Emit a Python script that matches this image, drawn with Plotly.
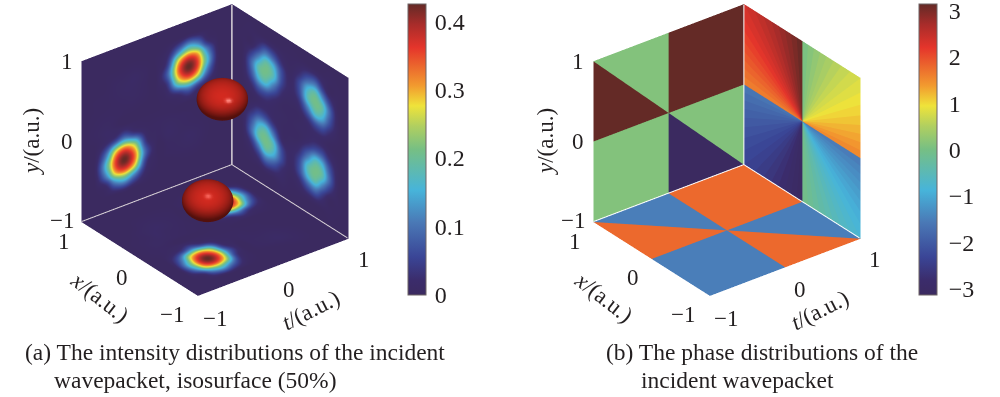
import numpy as np
import plotly.graph_objects as go

# ---------- data ----------
grid_nodes = [-1, -.8, -.65, -.55, -.43, -.3, -.15, 0, .15, .3, .43, .55, .65, .8, 1]

# intensity on the wall x = 1; rows: y = grid_nodes, columns: t = grid_nodes
intensity_wall_x = [
 [0,0,0,0,0,0,0,0,0,0,0,0,0,0,0],
 [0,0,.004,.01,.02,.01,.003,0,0,0,0,0,0,0,0],
 [0,.004,.045,.14,.195,.13,.025,.003,0,.002,.003,.002,0,0,0],
 [0,.012,.14,.29,.35,.28,.05,.004,.004,.006,.008,.006,.002,0,0],
 [0,.02,.195,.35,.425,.345,.09,.004,.006,.008,.012,.008,.003,0,0],
 [0,.012,.13,.28,.345,.27,.045,.006,.012,.008,.006,.004,.002,0,0],
 [0,.003,.025,.05,.09,.045,.01,.006,.008,.006,.004,.002,0,0,0],
 [0,.006,.012,.008,.004,.003,.002,.002,.002,.003,.003,.003,.003,.001,0],
 [0,.004,.006,.005,.003,.002,.001,.001,.01,.045,.09,.05,.025,.003,0],
 [0,.002,.003,.004,.006,.008,.004,.003,.045,.27,.345,.28,.13,.012,0],
 [0,.002,.003,.006,.01,.01,.005,.003,.09,.345,.425,.35,.195,.02,0],
 [0,0,.002,.006,.008,.012,.006,.003,.05,.28,.35,.29,.14,.012,0],
 [0,0,.002,.003,.004,.006,.003,.003,.025,.13,.195,.14,.045,.004,0],
 [0,0,0,0,0,0,0,0,.003,.01,.02,.01,.004,0,0],
 [0,0,0,0,0,0,0,0,0,0,0,0,0,0,0],
]

# intensity on the floor y = -1; rows: x = grid_nodes, columns: t = grid_nodes
intensity_floor = [
 [0,0,0,0,0,0,0,0,0,0,0,0,0,0,0],
 [0,0,.004,.01,.02,.01,.003,0,0,0,0,0,0,0,0],
 [0,.004,.045,.14,.195,.13,.025,.003,0,.002,.004,.006,.004,0,0],
 [0,.012,.14,.29,.35,.28,.05,.004,.004,.008,.012,.008,.004,0,0],
 [0,.02,.195,.35,.425,.345,.09,.004,.006,.008,.01,.006,.003,0,0],
 [0,.012,.13,.28,.345,.27,.045,.006,.006,.004,.004,.002,0,0,0],
 [0,.003,.025,.05,.09,.045,.01,.004,.004,.002,.002,0,0,0,0],
 [0,.004,.006,.006,.004,.003,.002,.002,.002,.003,.003,.003,.003,.001,0],
 [0,.004,.01,.008,.006,.004,.002,.001,.01,.045,.09,.05,.025,.003,0],
 [0,.003,.006,.012,.008,.006,.003,.003,.045,.27,.345,.28,.13,.012,0],
 [0,.001,.006,.01,.012,.008,.004,.003,.09,.345,.425,.35,.195,.02,0],
 [0,0,.002,.006,.008,.006,.004,.003,.05,.28,.35,.29,.14,.012,0],
 [0,0,.001,.003,.004,.004,.003,.003,.025,.13,.195,.14,.045,.004,0],
 [0,0,0,0,0,0,0,0,.003,.01,.02,.01,.004,0,0],
 [0,0,0,0,0,0,0,0,0,0,0,0,0,0,0],
]

# intensity on the wall t = 1; rows: y = grid_nodes, columns: x = grid_nodes
intensity_wall_t = [
 [0,0,0,0,0,0,0,0,0,0,0,0,0,0,0],
 [0,.002,.005,.008,.014,.012,.006,.004,.012,.012,.014,.005,.003,.001,0],
 [0,.004,.012,.05,.105,.085,.03,.008,.03,.085,.105,.05,.02,.003,0],
 [0,.006,.055,.115,.185,.155,.06,.012,.06,.155,.185,.11,.05,.006,0],
 [0,.012,.105,.185,.21,.18,.06,.016,.06,.18,.21,.185,.105,.012,0],
 [0,.012,.085,.155,.18,.11,.03,.012,.02,.11,.18,.155,.085,.012,0],
 [0,.006,.03,.06,.06,.03,.008,.006,.008,.03,.06,.06,.03,.006,0],
 [0,.001,.006,.012,.016,.012,.01,.006,.01,.012,.016,.012,.006,.001,0],
 [0,.006,.03,.06,.06,.03,.008,.006,.008,.03,.06,.06,.03,.006,0],
 [0,.012,.085,.155,.18,.11,.03,.012,.03,.11,.18,.155,.085,.012,0],
 [0,.012,.105,.185,.21,.18,.06,.016,.06,.18,.21,.185,.105,.012,0],
 [0,.006,.055,.115,.185,.155,.06,.012,.06,.155,.185,.115,.055,.006,0],
 [0,.004,.012,.05,.105,.085,.03,.008,.03,.085,.105,.05,.012,.004,0],
 [0,.002,.005,.008,.014,.012,.006,.004,.006,.012,.014,.008,.005,.002,0],
 [0,0,0,0,0,0,0,0,0,0,0,0,0,0,0],
]

# 50 % isosurface blobs: centre and semi-axes in data units, highlight offset on the silhouette
blob_t = [0.43, -0.43]
blob_x = [0.43, -0.43]
blob_y = [0.28, -0.28]
blob_rt = [0.27, 0.27]
blob_rx = [0.27, 0.27]
blob_ry = [0.215, 0.215]
blob_glint_right = [.23, .02]
blob_glint_up = [.14, .42]

# phase regions on the wall x = 1: triangles given as (t, y) corners, and their phase
wall_x_tri_t = [[0,1,1],[0,1,0],[-1,0,0],[-1,0,-1],[-1,0,0],[-1,0,-1],[0,1,1],[0,1,0]]
wall_x_tri_y = [[0,0,1],[0,1,1],[-1,-1,0],[-1,0,0],[1,1,0],[1,0,0],[0,0,-1],[0,-1,-1]]
wall_x_phase = [3.14,3.14,0.12,0.12,0.12,3.14,0.12,-3.14]

# phase regions on the floor y = -1: triangles given as (t, x) corners, and their phase
floor_tri_t = wall_x_tri_t
floor_tri_x = wall_x_tri_y
floor_phase = [1.78,1.78,-1.5,-1.5,-1.5,1.78,-1.5,1.78]

# phase wedges on the wall t = 1, clockwise from +y (seen on the page), 16 per quadrant
wedge_phase_q1 = [.05,.15,.25,.35,.44,.54,.64,.74,.83,.93,1.03,1.13,1.23,1.32,1.42,1.52]
wedge_phase_q2 = [-1.52,-1.42,-1.32,-1.23,-1.13,-1.03,-.93,-.83,-.74,-.64,-.54,-.44,-.35,-.25,-.15,-.05]
wedge_phase_q3 = [-3.09,-2.99,-2.89,-2.8,-2.7,-2.6,-2.5,-2.4,-2.31,-2.21,-2.11,-2.01,-1.92,-1.82,-1.72,-1.62]
wedge_phase_q4 = [1.62,1.72,1.82,1.92,2.01,2.11,2.21,2.31,2.4,2.5,2.6,2.7,2.8,2.89,2.99,3.09]

axis_tick_labels = ["\u22121", "0", "1"]
intensity_ticks = [0, .1, .2, .3, .4]
intensity_tick_text = ["0", "0.1", "0.2", "0.3", "0.4"]
phase_ticks = [-3, -2, -1, 0, 1, 2, 3]

# ---------- styling ----------
W, H = 1000, 397
FONT = "Liberation Serif"
INK = "#231f20"
cmap = [[0, "#3b2a60"], [.05, "#3b2c6b"], [.13, "#3a4596"], [.25, "#4a79b6"], [.36, "#47b4da"], [.5, "#76bf84"],
        [.58, "#b0cf60"], [.65, "#efe33a"], [.72, "#f29a2f"], [.85, "#e5352b"], [.93, "#a82c2a"],
        [1, "#642a26"]]
flat = dict(ambient=1, diffuse=0, specular=0, fresnel=0, roughness=1)
BOX_XY, BOX_Z = 1.271, 1.23
eye = np.array([-4640, -6000, 4399.0 * .97])
eye = eye / np.linalg.norm(eye) * 1.6
view_dir = eye / np.linalg.norm(eye)
page_right = np.array([75, -58, 0]) / 94.8
page_up = np.array([28, 37, 80]) / 92.5

def colorbar(x, ticks, text=None, ticklen=7):
    d = dict(x=x, xanchor="left", xpad=0, y=1 - 4 / H, yanchor="top", ypad=0, lenmode="pixels", len=291,
             thicknessmode="pixels", thickness=18, outlinecolor="#6f6466", outlinewidth=1,
             tickmode="array", tickvals=ticks, ticks="outside", ticklen=ticklen, tickcolor="rgba(0,0,0,0)",
             ticklabeloverflow="allow", tickfont=dict(family=FONT, size=24, color=INK))
    if text:
        d["ticktext"] = text
    return d

fig = go.Figure()
g = np.array(grid_nodes)
fine = np.linspace(-1, 1, 161)

def hermite(vals, axis):
    """Smooth rendering mesh through the read values (same values at the nodes)."""
    vals = np.moveaxis(vals, axis, 0)
    slope = np.gradient(vals, g, axis=0)
    idx = np.clip(np.searchsorted(g, fine) - 1, 0, len(g) - 2)
    h = (g[idx + 1] - g[idx])
    s = (fine - g[idx]) / h
    sh = s.reshape((-1,) + (1,) * (vals.ndim - 1))
    hh = h.reshape(sh.shape)
    out = ((2 * sh**3 - 3 * sh**2 + 1) * vals[idx] + (sh**3 - 2 * sh**2 + sh) * hh * slope[idx]
           + (-2 * sh**3 + 3 * sh**2) * vals[idx + 1] + (sh**3 - sh**2) * hh * slope[idx + 1])
    return np.moveaxis(out, 0, axis)

def smooth(matrix):
    return np.clip(hermite(hermite(np.array(matrix, float), 0), 1), 0, None)

T, Yy = np.meshgrid(fine, fine)

def face(scene, X, Y, Z, C, **kw):
    fig.add_trace(go.Surface(x=X, y=Y, z=Z, surfacecolor=smooth(C), cmin=0, cmax=.425, colorscale=cmap, scene=scene,
                             lighting=flat, hoverinfo="skip", **kw))

face("scene", T, np.ones_like(T), Yy, intensity_wall_x, showscale=True,
     colorbar=colorbar(408 / W, intensity_ticks, intensity_tick_text, ticklen=4))
face("scene", T, Yy, -np.ones_like(T), intensity_floor, showscale=False)
face("scene", np.ones_like(T), T, Yy, intensity_wall_t, showscale=False)

# blobs: closed meshes shaded per vertex (style only, highlight seen in the picture)
u = np.linspace(0, 2 * np.pi, 61)
v = np.linspace(0, np.pi, 41)
nu, nv = u.size, v.size
ii, jj = np.meshgrid(np.arange(nu - 1), np.arange(nv - 1), indexing="ij")
a = (ii * nv + jj).ravel()
b = ((ii + 1) * nv + jj).ravel()
c = ((ii + 1) * nv + jj + 1).ravel()
d = (ii * nv + jj + 1).ravel()
light = view_dir + .55 * page_up
light = light / np.linalg.norm(light)
base = np.array([212.0, 42.0, 32.0])
for ct, cx, cy, rt, rx, ry, gr, gu in zip(blob_t, blob_x, blob_y, blob_rt, blob_rx, blob_ry,
                                          blob_glint_right, blob_glint_up):
    px, py, pz = np.outer(np.cos(u), np.sin(v)), np.outer(np.sin(u), np.sin(v)), np.outer(np.ones_like(u), np.cos(v))
    nrm = np.stack([px / rt, py / rx, pz / ry], -1)
    nrm = nrm / np.linalg.norm(nrm, axis=-1, keepdims=True)
    diff = np.clip(nrm @ light, 0, 1)
    facing = np.clip(nrm @ view_dir, 0, 1)
    glint = gr * page_right + gu * page_up + np.sqrt(1 - gr**2 - gu**2) * view_dir
    spec = np.clip(nrm @ glint, 0, 1) ** 180
    rgb = base * (0.40 + 0.62 * diff * (0.6 + 0.4 * facing))[..., None] + np.array([110, 170, 170]) * spec[..., None]
    rgb = np.clip(rgb, 0, 255).astype(int).reshape(-1, 3)
    fig.add_trace(go.Mesh3d(
        x=(ct + rt * px).ravel(), y=(cx + rx * py).ravel(), z=(cy + ry * pz).ravel(),
        i=np.r_[a, a], j=np.r_[b, c], k=np.r_[c, d], vertexcolor=[f"rgb({r},{gg},{bb})" for r, gg, bb in rgb],
        lighting=flat, scene="scene", hoverinfo="skip"))

def mesh(scene, xs, ys, zs, phases, **kw):
    xs, ys, zs = np.ravel(xs).astype(float), np.ravel(ys).astype(float), np.ravel(zs).astype(float)
    n = len(phases)
    fig.add_trace(go.Mesh3d(x=xs, y=ys, z=zs, i=3 * np.arange(n), j=3 * np.arange(n) + 1, k=3 * np.arange(n) + 2,
                            intensity=phases, intensitymode="cell", cmin=-np.pi, cmax=np.pi, colorscale=cmap,
                            flatshading=True, lighting=flat, scene=scene, hoverinfo="skip", **kw))

tri_t = np.array(wall_x_tri_t)
tri_v = np.array(wall_x_tri_y)
mesh("scene2", tri_t, np.ones_like(tri_t), tri_v, wall_x_phase,
     showscale=True, colorbar=colorbar(919 / W, phase_ticks))
mesh("scene2", np.array(floor_tri_t), np.array(floor_tri_x), -np.ones_like(tri_t), floor_phase, showscale=False)

# fan on the wall t = 1: angle measured clockwise on the page from +y (page right is -x)
wedges = wedge_phase_q1 + wedge_phase_q2 + wedge_phase_q3 + wedge_phase_q4
ang = np.linspace(0, 2 * np.pi, len(wedges) + 1)
sq = np.maximum(np.abs(np.sin(ang)), np.abs(np.cos(ang)))
rim_x, rim_y = -np.sin(ang) / sq, np.cos(ang) / sq
fx = np.column_stack([np.zeros(len(wedges)), rim_x[:-1], rim_x[1:]])
fy = np.column_stack([np.zeros(len(wedges)), rim_y[:-1], rim_y[1:]])
mesh("scene2", np.ones_like(fx), fx, fy, wedges, showscale=False)

# back edges, lifted a hair off the faces so they are not lost in the depth test
E = .985
for sc, col, w_floor, w_corner in (("scene", "#d9d2d8", 2, 3), ("scene2", "#ffffff", 2, 2)):
    fig.add_trace(go.Scatter3d(x=[-1, E, E], y=[E, E, -1], z=[-E, -E, -E], mode="lines",
                               line=dict(color=col, width=w_floor), scene=sc, hoverinfo="skip", showlegend=False))
    fig.add_trace(go.Scatter3d(x=[E, E], y=[E, E], z=[-E, 1], mode="lines",
                               line=dict(color=col, width=w_corner), scene=sc, hoverinfo="skip", showlegend=False))

hidden = dict(visible=False, range=[-1.0, 1.0], showspikes=False)
def scene_dict(cx):
    return dict(domain=dict(x=[(cx - 150) / W, (cx + 150) / W], y=[1 - 300 / H, 1]),
                xaxis=hidden, yaxis=hidden, zaxis=hidden, aspectmode="manual",
                aspectratio=dict(x=BOX_XY, y=BOX_XY, z=BOX_Z), bgcolor="rgba(0,0,0,0)",
                camera=dict(eye=dict(x=eye[0], y=eye[1], z=eye[2]), up=dict(x=0, y=0, z=1),
                            center=dict(x=0, y=0, z=0), projection=dict(type="orthographic")))

ann = []
def txt(x, y, s, size=23, angle=0, anchor="center"):
    ann.append(dict(x=x / W, y=1 - y / H, xref="paper", yref="paper", text=s, showarrow=False, textangle=angle,
                    xanchor=anchor, yanchor="middle", font=dict(family=FONT, size=size, color=INK)))

for dx in (0, 511):
    for (x, y), s in zip([(62, 220), (67, 141), (67, 61)], axis_tick_labels):
        txt(x + dx, y, s)
    for (x, y), s in zip([(172, 314), (122, 277), (64, 241)], axis_tick_labels):
        txt(x + dx, y, s)
    for (x, y), s in zip([(215, 318), (289, 289), (364, 259)], axis_tick_labels):
        txt(x + dx, y, s)
    txt(31 + dx + (3 if dx else 0), 142, "<i>y</i>/(a.u.)", angle=-90)
    txt(100 + dx - 7 * (dx > 0), 297, "<i>x</i>/(a.u.)", angle=38)
    txt(310 + dx - 2 * (dx > 0), 310, "<i>t</i>/(a.u.)", angle=-27)

txt(235, 352, "(a) The intensity distributions of the incident", size=23.5)
txt(195, 380, "wavepacket, isosurface (50%)", size=23.5)
txt(762, 352, "(b) The phase distributions of the", size=23.5)
txt(737, 380, "incident wavepacket", size=23.5)

fig.update_layout(width=W, height=H, margin=dict(l=0, r=0, t=0, b=0), paper_bgcolor="white", showlegend=False,
                  scene=scene_dict(214.5), scene2=scene_dict(726.5), annotations=ann)
fig.write_html("out.html", config=dict(displayModeBar=False),
               post_script="document.body.style.margin='0';document.body.style.overflow='hidden';")
